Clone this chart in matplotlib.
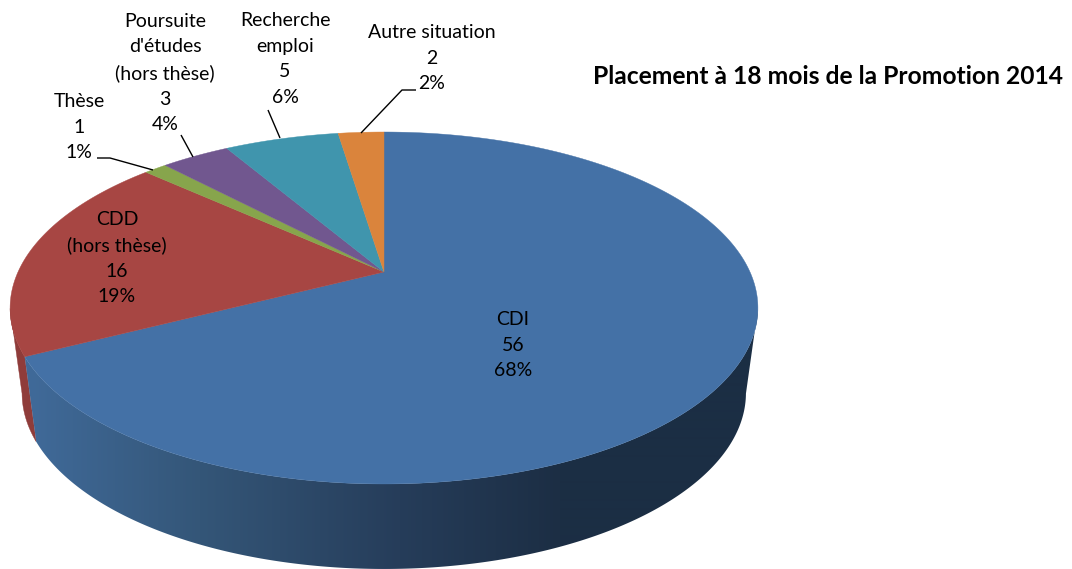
import numpy as np
import matplotlib
matplotlib.use("Agg")
import matplotlib.pyplot as plt
from matplotlib.colors import to_rgb
from matplotlib.patches import Polygon

categories = ["CDI", "CDD\n(hors thèse)", "Thèse", "Poursuite\nd'études\n(hors thèse)", "Recherche\nemploi", "Autre situation"]
values = [56, 16, 1, 3, 5, 2]
percents = [68, 19, 1, 4, 6, 2]
title = "Placement à 18 mois de la Promotion 2014"

top_colors = ["#4471A6", "#A74643", "#87A54C", "#71578F", "#4095AD", "#DA843C"]
red_wall = "#8F3C3A"
wall_stops_x = [30, 200, 400, 560, 760]
wall_stops_c = ["#406A99", "#345678", "#263D5A", "#1C2E44", "#1B2E44"]
label_pos = [(513, 345), (117, 258), (79, 127), (165, 73), (285, 59), (432, 58)]
leaders = [[(97, 158), (110, 158), (153, 170)],
           [(181, 135), (193, 157)],
           [(268, 110), (280, 138)],
           [(361, 133), (402, 90), (416, 90)]]

FONT = "Lato"
CX, APEX, D = 384.0, 272.0, 366.0
C, B = 0.2045, -113.0


def top_pt(theta):
    x, y = np.sin(theta), np.cos(theta)
    den = 1 + C * y
    return CX + D * x / den, (APEX + B * y) / den


def bot_pt(theta):
    X, Y = top_pt(theta)
    return CX + 0.968 * (X - CX), 393 + (Y - 308)


fig = plt.figure(figsize=(10.72, 5.69), dpi=100)
ax = fig.add_axes([0, 0, 1, 1])

vals = np.array(values, dtype=float)
fracs = vals / vals.sum()
edges = np.concatenate([[0], np.cumsum(fracs)]) * 2 * np.pi


def wall_poly(t0, t1):
    th = np.linspace(t0, t1, 300)
    tx, ty = top_pt(th)
    bx, by = bot_pt(th)
    return np.column_stack([np.r_[tx, bx[::-1]], np.r_[ty, by[::-1]]])


# blue front wall: horizontal gradient clipped to the wall outline
xs_grad = np.arange(0, 1072)
cols = np.array([to_rgb(c) for c in wall_stops_c])
grad = np.stack([np.interp(xs_grad, wall_stops_x, cols[:, i]) for i in range(3)], axis=-1)[None, :, :]
blue_poly = Polygon(wall_poly(np.radians(102), edges[1]), closed=True, fc="none", ec="none", transform=ax.transData)
ax.add_patch(blue_poly)
im = ax.imshow(grad, extent=(0, 1072, 569, 0), aspect="auto", interpolation="bilinear", zorder=2)
im.set_clip_path(blue_poly)

# red wall
ax.add_patch(Polygon(wall_poly(edges[1], np.radians(258)), closed=True, fc=red_wall, ec=red_wall, lw=0.3, zorder=1.5))

# top face
for i in range(len(vals)):
    th = np.linspace(edges[i], edges[i + 1], max(int(vals[i] * 8), 12))
    px, py = top_pt(th)
    ax.fill(np.r_[CX, px], np.r_[APEX, py], fc=top_colors[i], ec=top_colors[i], lw=0.3, zorder=3)

# labels
for i in range(len(vals)):
    s = f"{categories[i]}\n{values[i]}\n{percents[i]}%"
    ax.text(label_pos[i][0], label_pos[i][1], s, ha="center", va="center", multialignment="center",
            fontsize=14, family=FONT, color="black", linespacing=1.6, zorder=5)

for seg in leaders:
    p = np.array(seg)
    ax.plot(p[:, 0], p[:, 1], color="black", lw=1.0, zorder=4, solid_capstyle="butt")

ax.text(593, 76, title, ha="left", va="center", fontsize=17.7, fontweight="bold", family=FONT, color="black")

ax.set_xlim(0, 1072)
ax.set_ylim(569, 0)
ax.axis("off")
fig.savefig("out.png", dpi=100)
